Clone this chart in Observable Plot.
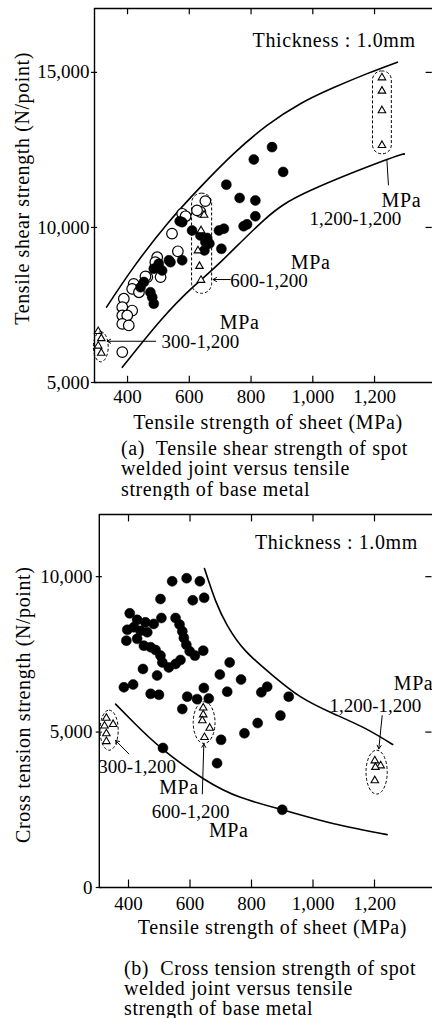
<!DOCTYPE html>
<html>
<head>
<meta charset="utf-8">
<script src="https://cdn.jsdelivr.net/npm/d3@7"></script>
<script src="https://cdn.jsdelivr.net/npm/@observablehq/plot@0.6"></script>
<style>
  html, body { margin: 0; padding: 0; background: white; overflow: hidden; }
  #root { position: relative; width: 432px; height: 1018px; font-family: "Liberation Serif", "Times New Roman", serif; color: black; }
  .chart { position: absolute; left: 0; }
  .cap { position: absolute; font-size: 20px; letter-spacing: 0.6px; white-space: nowrap; }
</style>
</head>
<body>
<div id="root">
  <div id="chartA" class="chart" style="top:0px"></div>
  <div class="cap" style="top:437.75px; left:121px; line-height:20.5px">(a)&nbsp; Tensile shear strength of spot<br>welded joint versus tensile<br>strength of base metal</div>
  <div id="chartB" class="chart" style="top:500px"></div>
  <div class="cap" style="top:957.5px; left:124px; line-height:20px">(b)&nbsp; Cross tension strength of spot<br>welded joint versus tensile<br>strength of base metal</div>
</div>
<script>
// ---------- shared ----------
const xTicks = [400, 600, 800, 1000, 1200];
const xTickLabels = ["400", "600", "800", "1,000", "1,200"];
const xLabel = "Tensile strength of sheet (MPa)";
const thickness = "Thickness : 1.0mm";

// ---------- chart (a): tensile shear strength ----------
const yTicksA = [5000, 10000, 15000];
const yTickLabelsA = ["5,000", "10,000", "15,000"];
const yLabelA = "Tensile shear strength (N/point)";

// filled circles [MPa, N/point]
const filledA = [
  [868,12590],[809,12190],[904,11790],[720,11380],[763,10950],[814,10870],[814,10360],
  [787,10100],[776,10040],[712,9960],[696,9900],[704,9310],
  [577,10170],[609,9900],[636,9740],[658,9660],[649,9260],[652,9530],[569,10200],[665,9480],
  [577,8940],[539,8880],[501,8830],[485,8670],[512,8610],[474,7910],[480,7750],[485,7540],
  [453,8240],[442,8070],[534,8940]
];
// open circles
const openA = [
  [652,10850],[636,10500],[577,10440],[588,10360],[544,9800],[563,9230],[496,9040],[490,8880],
  [464,8400],[507,8400],[420,8180],[415,8020],[437,7910],[388,7700],[383,7430],[415,7320],
  [383,7160],[399,7160],[383,6890],[404,6840],[383,5980],[458,8420],[625,10550]
];
// triangles (groups 300-1,200 / 600-1,200 / 1,200-1,200)
const triA = [
  [305,6650],[315,6420],[305,6180],[315,5950],
  [648,10400],[638,9900],[628,9250],[633,8750],[638,8300],
  [1224,14830],[1224,14400],[1224,13770],[1224,12650]
];
const upperA = [[332,7430],[420,8720],[529,10120],[636,11300],[744,12380],[852,13290],[960,13990],[1068,14510],[1176,14960],[1274,15330]];
const lowerA = [[383,5490],[507,7000],[609,8050],[701,8880],[841,10230],[992,11190],[1240,12190],[1296,12360]];
const groupsA = [
  {x1:291, x2:339, y1:5650, y2:6620, rx:7.5, ry:15},
  {x1:609, x2:674, y1:7860, y2:11090, rx:10, ry:10},
  {x1:1195, x2:1256, y1:12360, y2:15030, rx:9, ry:9}
];
const labelsA = [
  {text:"MPa", x:1287, y:10870},
  {text:"1,200-1,200", x:1138, y:10290},
  {text:"MPa", x:993, y:8870},
  {text:"600-1,200", x:858, y:8260},
  {text:"MPa", x:763, y:6940},
  {text:"300-1,200", x:636, y:6300}
];
const arrowsA = [
  {x1:733, y1:8320, x2:677, y2:8320},
  {x1:491, y1:6330, x2:334, y2:6330}
];
const leadersA = [{x1:1240, y1:12180, x2:1245, y2:11360}];

// ---------- chart (b): cross tension strength ----------
const yTicksB = [0, 5000, 10000];
const yTickLabelsB = ["0", "5,000", "10,000"];
const yLabelB = "Cross tension strength (N/point)";

const filledB = [
  [542,9850],[589,9950],[632,9850],[504,9280],[609,9240],[646,9320],
  [404,8820],[428,8610],[455,8530],[482,8480],[507,8670],[396,8290],[417,8370],[439,8260],[461,8210],
  [393,7940],[428,8000],[450,7780],[472,7730],[488,7640],[504,7460],[510,7240],[531,7080],[553,7190],
  [569,7320],[493,6820],[447,7030],
  [553,8670],[566,8460],[575,8240],[580,8030],[588,7810],[599,7600],[616,7460],[643,7620],
  [385,6440],[415,6530],[472,6230],[499,6200],
  [729,7240],[697,6850],[766,6690],[645,6420],[721,6300],[591,6140],[623,6060],[661,6080],
  [575,5740],[851,6460],[832,6280],[921,6140],[894,5530],[820,5290],[777,4960],[701,4750],
  [512,4490],[688,4000],[900,2500]
];
const triB = [
  [328,5450],[350,5250],[322,5200],[328,4950],[328,4700],
  [643,5780],[643,5560],[640,5370],[664,5130],[647,4830],
  [1201,4080],[1220,3920],[1203,3870],[1201,3440]
];
const upperB = [[647,10260],[683,9230],[722,8420],[780,7620],[862,6880],[959,6140],[1067,5590],[1171,5110],[1259,4600]];
const lowerB = [[358,5900],[417,5310],[510,4460],[645,3490],[764,2900],[900,2500],[1068,2050],[1241,1700]];
const groupsB = [
  {x1:309, x2:368, y1:4400, y2:5690, rx:9.5, ry:20},
  {x1:612, x2:683, y1:4620, y2:5960, rx:11, ry:21},
  {x1:1174, x2:1243, y1:2990, y2:4400, rx:10.5, ry:22}
];
const labelsB = [
  {text:"MPa", x:1327, y:6560},
  {text:"1,200-1,200", x:1203, y:5850},
  {text:"300-1,200", x:428, y:3870},
  {text:"MPa", x:564, y:3220},
  {text:"600-1,200", x:602, y:2420},
  {text:"MPa", x:726, y:1830}
];
const arrowsB = [
  {x1:1225, y1:5530, x2:1214, y2:4460},
  {x1:401, y1:4300, x2:358, y2:4730},
  {x1:640, y1:3010, x2:645, y2:4620}
];

const FONT = '"Liberation Serif", "Times New Roman", serif';

function makeChart(cfg) {
  const [xMin, xMax] = cfg.xDomain;
  const [yMin, yMax] = cfg.yDomain;
  const pt = a => ({x: a[0], y: a[1]});
  const marks = [
    // frame (left, bottom, top)
    Plot.ruleX([xMin], {strokeWidth: 1.4}),
    Plot.ruleY([yMin, yMax], {strokeWidth: 1.4}),
    // inward ticks bottom and top
    Plot.ruleX(xTicks, {x: d => d, y1: yMin, y2: yMin + cfg.xTickLen, strokeWidth: 1.2}),
    Plot.ruleX(xTicks, {x: d => d, y1: yMax, y2: yMax - cfg.xTickLen, strokeWidth: 1.2}),
    // left ticks crossing the frame
    Plot.ruleY(cfg.yTicks, {y: d => d, x1: xMin - cfg.yTickLen, x2: xMin + cfg.yTickLen, strokeWidth: 1.2}),
    // right inward ticks
    Plot.ruleY(cfg.yTicks.filter(d => d > yMin), {y: d => d, x1: cfg.xRightEdge - 2 * cfg.yTickLen, x2: cfg.xRightEdge, strokeWidth: 1.2}),
    // tick labels
    Plot.text(xTicks, {x: d => d, text: (d, i) => xTickLabels[i], frameAnchor: "bottom", dy: cfg.xLabelDy, textAnchor: "middle", lineAnchor: "middle", fontSize: 19}),
    Plot.text(cfg.yTicks, {y: d => d, text: (d, i) => cfg.yTickLabels[i], frameAnchor: "left", dx: cfg.yLabelDx, textAnchor: "end", lineAnchor: "middle", fontSize: 19}),
    // axis titles
    Plot.text([xLabel], {x: cfg.xTitleX, text: d => d, frameAnchor: "bottom", dy: cfg.xTitleDy, textAnchor: "middle", lineAnchor: "middle", fontSize: 20}),
    Plot.text([cfg.yLabel], {y: cfg.yTitleY, text: d => d, frameAnchor: "left", dx: cfg.yTitleDx, rotate: -90, textAnchor: "middle", lineAnchor: "middle", fontSize: 20}),
    Plot.text([thickness], {x: cfg.thickX, y: cfg.thickY, text: d => d, textAnchor: "middle", lineAnchor: "middle", fontSize: 20}),
    // envelope curves
    Plot.line(cfg.upper.map(pt), {x: "x", y: "y", curve: "natural", stroke: "black", strokeWidth: 1.6}),
    Plot.line(cfg.lower.map(pt), {x: "x", y: "y", curve: "natural", stroke: "black", strokeWidth: 1.6}),
  ];
  if (cfg.open) marks.push(Plot.dot(cfg.open.map(pt), {x: "x", y: "y", r: 5.3, fill: "white", stroke: "black", strokeWidth: 1.2}));
  marks.push(Plot.dot(cfg.filled.map(pt), {x: "x", y: "y", r: 5, fill: "black", stroke: "black", strokeWidth: 0.5}));
  marks.push(Plot.dot(cfg.tri.map(pt), {x: "x", y: "y", r: 2.8, symbol: "triangle", fill: "white", stroke: "black", strokeWidth: 1.1}));
  cfg.groups.forEach(g => marks.push(Plot.rect([g], {x1: "x1", x2: "x2", y1: "y1", y2: "y2", rx: g.rx, ry: g.ry, fill: "none", stroke: "black", strokeWidth: 1, strokeDasharray: "3,2"})));
  marks.push(Plot.arrow(cfg.arrows, {x1: "x1", y1: "y1", x2: "x2", y2: "y2", stroke: "black", strokeWidth: 1, headLength: 6}));
  if (cfg.leaders) marks.push(Plot.link(cfg.leaders, {x1: "x1", y1: "y1", x2: "x2", y2: "y2", stroke: "black", strokeWidth: 1}));
  marks.push(Plot.text(cfg.labels, {x: "x", y: "y", text: "text", textAnchor: "middle", lineAnchor: "middle", fontSize: 19}));

  const svg = Plot.plot({
    width: 432, height: cfg.height,
    marginTop: cfg.marginTop, marginBottom: cfg.marginBottom, marginLeft: cfg.marginLeft, marginRight: 0,
    x: {domain: cfg.xDomain, range: cfg.xRange, axis: null},
    y: {domain: cfg.yDomain, axis: null},
    style: {fontFamily: FONT, background: "white", color: "black", overflow: "visible"},
    marks
  });
  d3.select(svg).selectAll("text").each(function () {
    const t = this.textContent;
    if (/[A-Za-z]/.test(t)) {
      d3.select(this).style("letter-spacing", "0.6px").attr("font-size", 20);
    }
  });
  return svg;
}

document.getElementById("chartA").appendChild(makeChart({
  height: 440, marginTop: 8, marginBottom: 58, marginLeft: 94,
  xDomain: [293, 1400], xRange: [94, 435.8], xRightEdge: 1387,
  yDomain: [5000, 17060],
  yTicks: yTicksA, yTickLabels: yTickLabelsA, yLabel: yLabelA,
  xTickLen: 200, yTickLen: 10, xLabelDy: 14, yLabelDx: -5,
  xTitleX: 855, xTitleDy: 40, yTitleY: 11260, yTitleDx: -72,
  thickX: 1069, thickY: 16030,
  upper: upperA, lower: lowerA, filled: filledA, open: openA, tri: triA,
  groups: groupsA, labels: labelsA, arrows: arrowsA, leaders: leadersA
}));

document.getElementById("chartB").appendChild(makeChart({
  height: 440, marginTop: 14, marginBottom: 53, marginLeft: 99,
  xDomain: [305, 1400], xRange: [98.8, 435.5], xRightEdge: 1387,
  yDomain: [0, 12000],
  yTicks: yTicksB, yTickLabels: yTickLabelsB, yLabel: yLabelB,
  xTickLen: 240, yTickLen: 10, xLabelDy: 16, yLabelDx: -7,
  xTitleX: 868, xTitleDy: 40, yTitleY: 5880, yTitleDx: -76,
  thickX: 1076, thickY: 11090,
  upper: upperB, lower: lowerB, filled: filledB, open: null, tri: triB,
  groups: groupsB, labels: labelsB, arrows: arrowsB, leaders: null
}));
</script>
</body>
</html>
